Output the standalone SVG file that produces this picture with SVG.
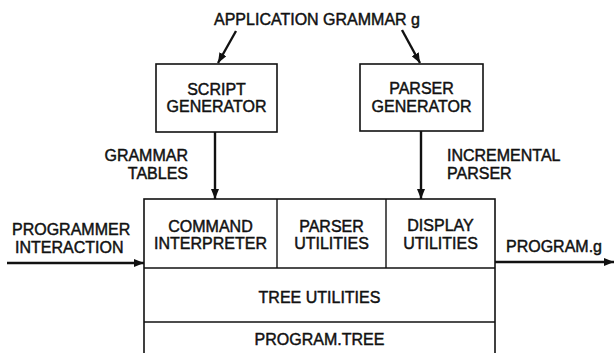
<svg xmlns="http://www.w3.org/2000/svg" width="614" height="353" viewBox="0 0 614 353">
<style>
text{font-family:"Liberation Sans",Arial,Helvetica,sans-serif;font-size:16px;fill:#111;stroke:#111;stroke-width:0.45;}
.c{text-anchor:middle;}
.r{text-anchor:end;}
.box{fill:#fff;stroke:#111;stroke-width:1.6;}
.ln{fill:none;stroke:#111;stroke-width:1.4;}
.ar{fill:none;stroke:#111;stroke-width:2.4;}
</style>
<defs>
<marker id="ah" viewBox="0 0 10 8" refX="10" refY="4" markerWidth="10" markerHeight="8" markerUnits="userSpaceOnUse" orient="auto">
<path d="M0,0 L10,4 L0,8 Z" fill="#111"/>
</marker>
</defs>
<rect width="614" height="353" fill="#fff"/>
<text id="title" class="c" x="317" y="25">APPLICATION GRAMMAR g</text>
<g id="script-generator">
<rect class="box" x="156" y="64" width="121" height="68"/>
<text class="c" x="216.5" y="95">SCRIPT</text>
<text class="c" x="216.5" y="112">GENERATOR</text>
</g>
<g id="parser-generator">
<rect class="box" x="360" y="64" width="123" height="67"/>
<text class="c" x="421.5" y="94">PARSER</text>
<text class="c" x="421.5" y="112">GENERATOR</text>
</g>
<g id="main-block">
<rect class="box" x="144" y="199" width="351" height="170"/>
<line class="ln" x1="144" y1="268" x2="495" y2="268"/>
<line class="ln" x1="144" y1="322" x2="495" y2="322"/>
<line class="ln" x1="277" y1="199" x2="277" y2="268"/>
<line class="ln" x1="386" y1="199" x2="386" y2="268"/>
</g>
<g id="command-interpreter">
<text class="c" x="210.5" y="232">COMMAND</text>
<text class="c" x="210.5" y="249">INTERPRETER</text>
</g>
<g id="parser-utilities">
<text class="c" x="331.5" y="232">PARSER</text>
<text class="c" x="331.5" y="249">UTILITIES</text>
</g>
<g id="display-utilities">
<text class="c" x="440.5" y="231">DISPLAY</text>
<text class="c" x="440.5" y="249">UTILITIES</text>
</g>
<g id="tree-utilities">
<text class="c" x="319.5" y="303">TREE UTILITIES</text>
</g>
<g id="program-tree">
<text class="c" x="319.5" y="345">PROGRAM.TREE</text>
</g>
<g id="connectors">
<line class="ar" x1="236" y1="31" x2="218" y2="63" marker-end="url(#ah)"/>
<line class="ar" x1="402" y1="30" x2="420" y2="63" marker-end="url(#ah)"/>
<line class="ar" x1="215" y1="132" x2="215" y2="199" marker-end="url(#ah)"/>
<line class="ar" x1="421" y1="131" x2="421" y2="199" marker-end="url(#ah)"/>
<line class="ar" x1="7" y1="263" x2="144" y2="263" marker-end="url(#ah)"/>
<line class="ar" x1="495" y1="262" x2="614" y2="262" marker-end="url(#ah)"/>
</g>
<g id="labels">
<text class="r" x="188" y="161">GRAMMAR</text>
<text class="r" x="188" y="179">TABLES</text>
<text x="447" y="161">INCREMENTAL</text>
<text x="447" y="179">PARSER</text>
<text x="12" y="235">PROGRAMMER</text>
<text x="15" y="253">INTERACTION</text>
<text x="506" y="252">PROGRAM.g</text>
</g>
</svg>
